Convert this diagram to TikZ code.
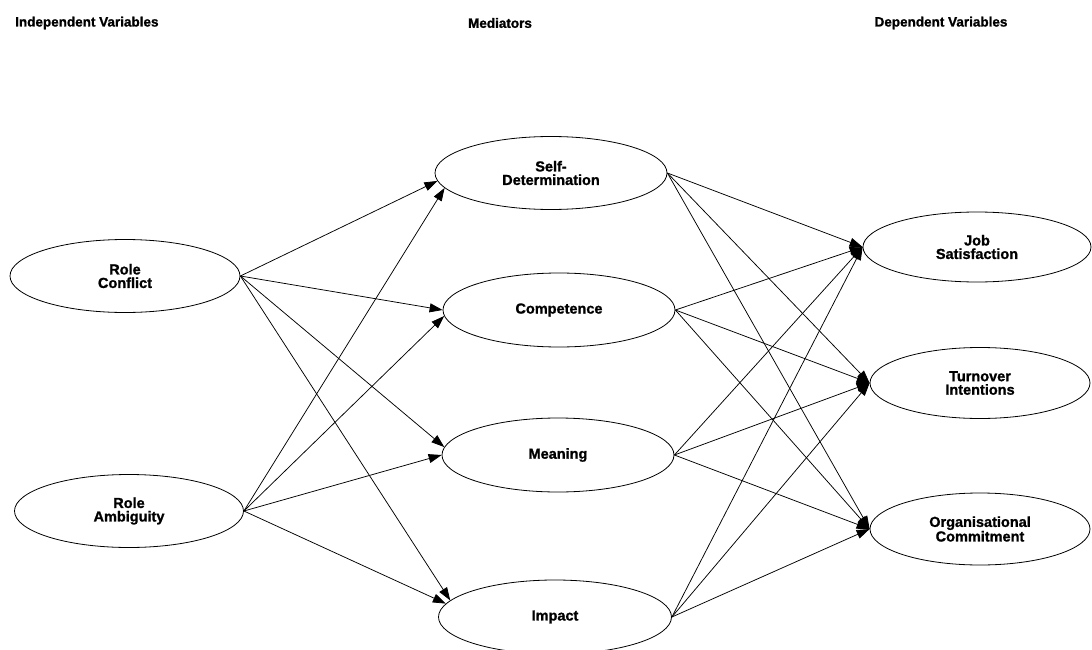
\documentclass[tikz,border=0pt]{standalone}
\usepackage{fontspec}
\setmainfont{Liberation Sans}[BoldFeatures={FakeBold=1.2}]
\usetikzlibrary{shapes.geometric,arrows.meta}
\begin{document}
\begin{tikzpicture}[x=1pt,y=-1pt,
  var/.style={ellipse,draw,line width=0.8pt,inner sep=0pt,align=center,
    font=\bfseries\fontsize{14.5}{13.5}\selectfont},
  hdr/.style={font=\bfseries\fontsize{13.5}{15}\selectfont,inner sep=0pt},
  link/.style={line width=0.75pt,-{Triangle[length=13pt,width=9pt]}}]
\useasboundingbox (0,0) rectangle (1092,650);
% headers
\node[hdr,anchor=west] (h1) at (15,23) {Independent Variables};
\node[hdr] (h2) at (500,23) {Mediators};
\node[hdr] (h3) at (941,23) {Dependent Variables};
% independent variables
\node[var,minimum width=230pt,minimum height=73pt] (rc) at (125,276) {Role\\Conflict};
\node[var,minimum width=229pt,minimum height=73pt] (ra) at (129,511) {Role\\Ambiguity};
% mediators
\node[var,minimum width=232pt,minimum height=73pt] (sd) at (551,173) {Self-\\Determination};
\node[var,minimum width=232pt,minimum height=74pt] (cp) at (559,310) {Competence};
\node[var,minimum width=232pt,minimum height=74pt] (mn) at (558,455) {Meaning};
\node[var,minimum width=233pt,minimum height=74pt] (im) at (555,617) {Impact};
% dependent variables
\node[var,minimum width=228pt,minimum height=70pt] (js) at (977,247) {Job\\Satisfaction};
\node[var,minimum width=220pt,minimum height=71pt] (ti) at (980,383) {Turnover\\Intentions};
\node[var,minimum width=220pt,minimum height=72pt] (oc) at (980,529) {Organisational\\Commitment};
% IV -> mediators
\draw[link] (rc.east) -- (sd.184);
\draw[link] (ra.east) -- (sd.188);
\draw[link] (rc.east) -- (cp.180);
\draw[link] (ra.east) -- (cp.183);
\draw[link] (rc.east) -- (mn.176);
\draw[link] (ra.east) -- (mn.180);
\draw[link] (rc.east) -- (im.171);
\draw[link] (ra.east) -- (im.173);
% mediators -> DV
\foreach \m in {sd,cp,mn,im}{
  \foreach \d in {js,ti,oc}{
    \draw[link] (\m.east) -- (\d.west);
  }
}
\end{tikzpicture}
\end{document}
